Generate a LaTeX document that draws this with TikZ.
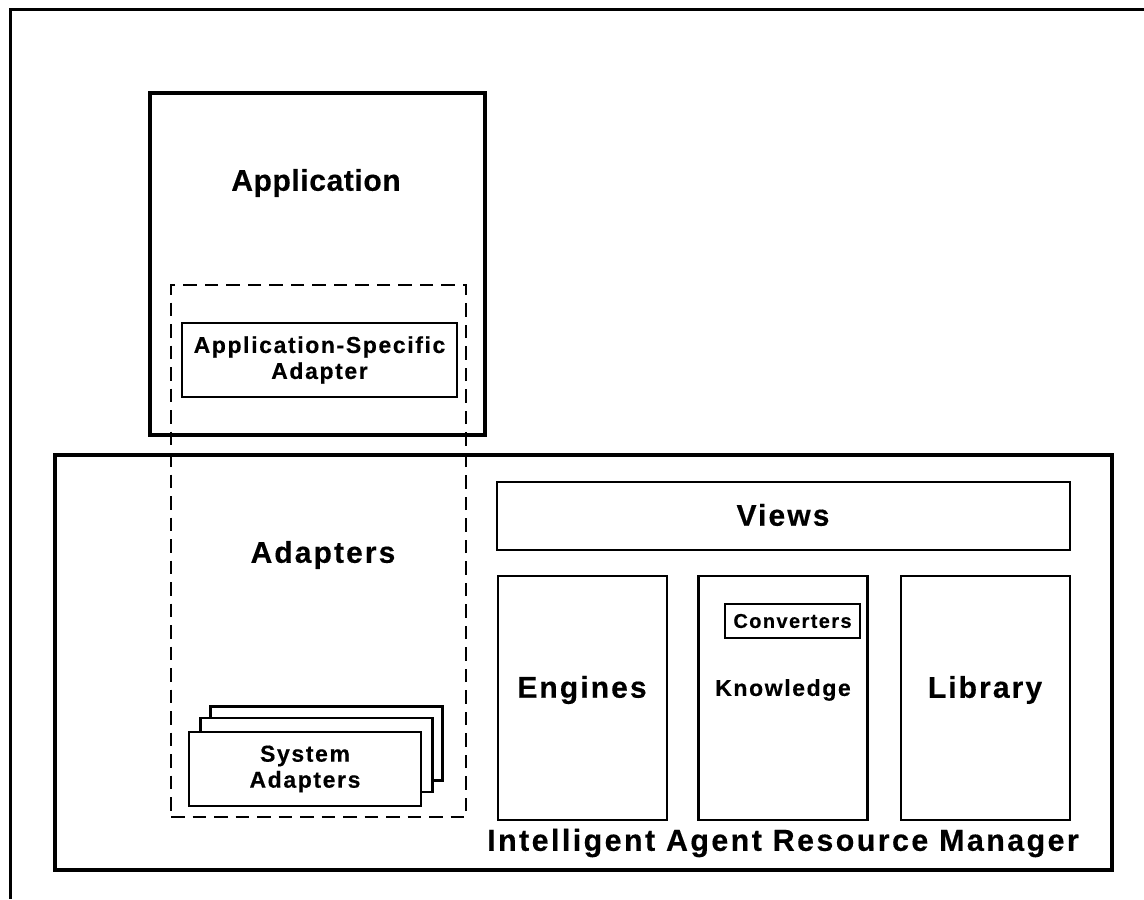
\documentclass[tikz,border=0pt]{standalone}
\usepackage{fontspec}
\setmainfont{Liberation Sans}[LetterSpace=7, BoldFeatures={FakeBold=0.4}]
\begin{document}
\begin{tikzpicture}[
  x=0.5pt, y=-0.5pt,
  box/.style={rectangle, draw, line width=1.1pt, fill=white, inner sep=0pt, align=center, font=\bfseries\fontsize{11.5}{13}\selectfont},
  bigbox/.style={rectangle, draw, line width=1.75pt, inner sep=0pt},
  part/.style={box, minimum width=84.5pt, minimum height=122pt},
  title/.style={font=\bfseries\fontsize{15}{18}\selectfont},
  adapterbox/.style={box, minimum width=116pt, minimum height=37pt}
]
\useasboundingbox (0,0) rectangle (1144,899);

% Outer frame
\coordinate (ftop) at (1144,10);
\coordinate (fcorner) at (10,10);
\coordinate (fbottom) at (10,899);
\draw[line width=1.5pt] (ftop) -- (fcorner) -- (fbottom);

% Resource manager
\node[bigbox, minimum width=528.5pt, minimum height=207.5pt] (iarm) at (583.5,662.5) {};
\node[title, font=\bfseries\fontsize{15.2}{18}\selectfont\addfontfeatures{LetterSpace=8}] (iarmlabel) at (783,843) {Intelligent Agent Resource Manager};

% Application
\node[bigbox, minimum width=167.5pt, minimum height=171pt] (app) at (317.5,264) {};
\node[title, font=\bfseries\fontsize{15}{18}\selectfont\addfontfeatures{LetterSpace=2}] (applabel) at (316,183) {Application};
\node[box, minimum width=137.5pt, minimum height=37pt] (specific) at (319.5,360) {Application-Specific\\Adapter};

% Adapters
\node[rectangle, draw, line width=1.2pt, dash pattern=on 6.75pt off 4pt, minimum width=147.5pt, minimum height=266pt] (adapters) at (318.5,551) {};
\node[title] (adapterslabel) at (323,555) {Adapters};
\node[adapterbox] (sys3) at (326.5,743.5) {};
\node[adapterbox] (sys2) at (316.5,755) {};
\node[adapterbox] (sys1) at (305,769) {System\\Adapters};

% Views and parts
\node[box, minimum width=286.5pt, minimum height=34pt] (views) at (783.5,516) {};
\node[title] (viewslabel) at (783,515) {Views};
\node[part] (engines) at (582.5,698) {};
\node[title] (engineslabel) at (582,690) {Engines};
\node[part] (knowledge) at (783,698) {};
\node[box, draw=none, fill=none] (knowledgelabel) at (783,690) {Knowledge};
\node[box, minimum width=67.5pt, minimum height=17pt, font=\bfseries\fontsize{10}{12}\selectfont] (converters) at (792.5,621) {Converters};
\node[part] (library) at (985.5,698) {};
\node[title] (librarylabel) at (985,690) {Library};

\end{tikzpicture}
\end{document}
